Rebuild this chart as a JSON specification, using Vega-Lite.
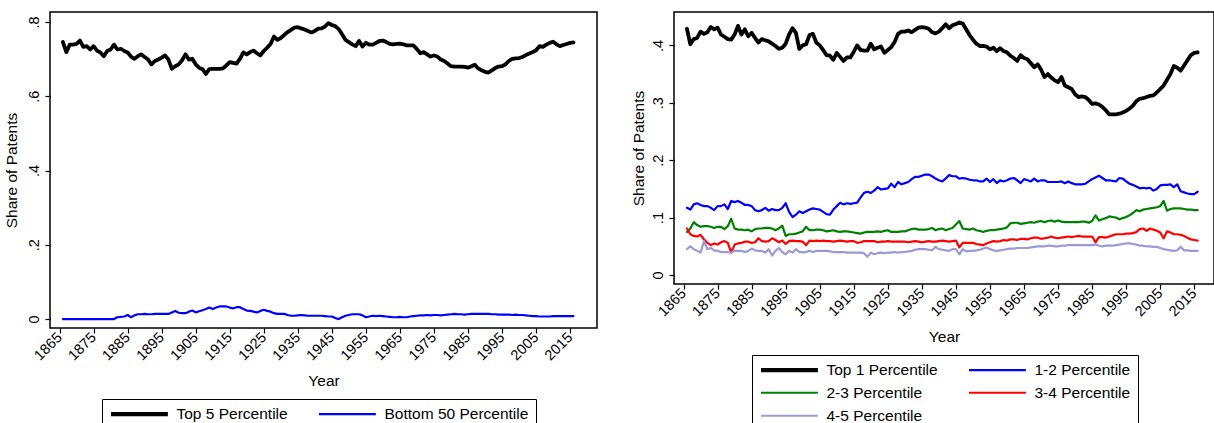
{
"$schema": "https://vega.github.io/schema/vega-lite/v6.json",
"background": "white",
"padding": {"left": 3, "top": 11, "right": 0, "bottom": 0},
"autosize": {"type": "pad"},
"spacing": 77,
"bounds": "flush",
"resolve": {"scale": {"color": "independent"}, "legend": {"color": "independent"}},
"config": {
  "font": "Liberation Sans",
  "view": {"stroke": "black", "strokeWidth": 1.5},
  "axis": {"domain": false, "grid": false, "tickColor": "black", "tickSize": 5, "tickWidth": 1.2, "labelColor": "black", "titleColor": "black", "labelFont": "Liberation Sans", "titleFont": "Liberation Sans", "labelFontSize": 14.5, "titleFontSize": 15.5, "titleFontWeight": "normal", "labelOverlap": false, "labelFlush": false},
  "axisX": {"labelAngle": -45, "labelAlign": "right", "labelBaseline": "middle", "labelPadding": 2, "titlePadding": 7, "minExtent": 38, "maxExtent": 38},
  "axisY": {"labelAngle": -90, "labelAlign": "center", "labelBaseline": "bottom", "labelPadding": 3.5, "titlePadding": 4, "minExtent": 24, "maxExtent": 24},
  "legend": {"orient": "none", "direction": "horizontal", "columns": 2, "strokeColor": "black", "padding": 7, "columnPadding": 26, "rowPadding": 6, "symbolType": "M-1,0H8.9", "symbolSize": 132, "labelOffset": 52, "labelFontSize": 15.5, "labelFont": "Liberation Sans", "labelColor": "black", "labelLimit": 400, "symbolStrokeWidth": 2.2, "symbolFillColor": "transparent"}
},
"datasets": {
"L": [
{"year":1866,"Top 5 Percentile":0.746,"Bottom 50 Percentile":0},{"year":1867,"Top 5 Percentile":0.719,"Bottom 50 Percentile":0},{"year":1868,"Top 5 Percentile":0.739,"Bottom 50 Percentile":0},{"year":1869,"Top 5 Percentile":0.739,"Bottom 50 Percentile":0},{"year":1870,"Top 5 Percentile":0.741,"Bottom 50 Percentile":0},{"year":1871,"Top 5 Percentile":0.750,"Bottom 50 Percentile":0},{"year":1872,"Top 5 Percentile":0.733,"Bottom 50 Percentile":0},{"year":1873,"Top 5 Percentile":0.735,"Bottom 50 Percentile":0},{"year":1874,"Top 5 Percentile":0.726,"Bottom 50 Percentile":0},{"year":1875,"Top 5 Percentile":0.735,"Bottom 50 Percentile":0},{"year":1876,"Top 5 Percentile":0.723,"Bottom 50 Percentile":0},{"year":1877,"Top 5 Percentile":0.718,"Bottom 50 Percentile":0},{"year":1878,"Top 5 Percentile":0.708,"Bottom 50 Percentile":0},{"year":1879,"Top 5 Percentile":0.722,"Bottom 50 Percentile":0},{"year":1880,"Top 5 Percentile":0.726,"Bottom 50 Percentile":0},{"year":1881,"Top 5 Percentile":0.739,"Bottom 50 Percentile":0},{"year":1882,"Top 5 Percentile":0.726,"Bottom 50 Percentile":0.005},{"year":1883,"Top 5 Percentile":0.728,"Bottom 50 Percentile":0.006},{"year":1884,"Top 5 Percentile":0.722,"Bottom 50 Percentile":0.007},{"year":1885,"Top 5 Percentile":0.718,"Bottom 50 Percentile":0.011},{"year":1886,"Top 5 Percentile":0.707,"Bottom 50 Percentile":0.005},{"year":1887,"Top 5 Percentile":0.701,"Bottom 50 Percentile":0.010},{"year":1888,"Top 5 Percentile":0.708,"Bottom 50 Percentile":0.013},{"year":1889,"Top 5 Percentile":0.713,"Bottom 50 Percentile":0.013},{"year":1890,"Top 5 Percentile":0.706,"Bottom 50 Percentile":0.014},{"year":1891,"Top 5 Percentile":0.699,"Bottom 50 Percentile":0.013},{"year":1892,"Top 5 Percentile":0.686,"Bottom 50 Percentile":0.013},{"year":1893,"Top 5 Percentile":0.695,"Bottom 50 Percentile":0.014},{"year":1894,"Top 5 Percentile":0.699,"Bottom 50 Percentile":0.014},{"year":1895,"Top 5 Percentile":0.704,"Bottom 50 Percentile":0.014},{"year":1896,"Top 5 Percentile":0.710,"Bottom 50 Percentile":0.014},{"year":1897,"Top 5 Percentile":0.699,"Bottom 50 Percentile":0.014},{"year":1898,"Top 5 Percentile":0.674,"Bottom 50 Percentile":0.018},{"year":1899,"Top 5 Percentile":0.681,"Bottom 50 Percentile":0.022},{"year":1900,"Top 5 Percentile":0.686,"Bottom 50 Percentile":0.017},{"year":1901,"Top 5 Percentile":0.697,"Bottom 50 Percentile":0.016},{"year":1902,"Top 5 Percentile":0.713,"Bottom 50 Percentile":0.016},{"year":1903,"Top 5 Percentile":0.699,"Bottom 50 Percentile":0.020},{"year":1904,"Top 5 Percentile":0.701,"Bottom 50 Percentile":0.023},{"year":1905,"Top 5 Percentile":0.686,"Bottom 50 Percentile":0.018},{"year":1906,"Top 5 Percentile":0.677,"Bottom 50 Percentile":0.021},{"year":1907,"Top 5 Percentile":0.673,"Bottom 50 Percentile":0.024},{"year":1908,"Top 5 Percentile":0.660,"Bottom 50 Percentile":0.027},{"year":1909,"Top 5 Percentile":0.673,"Bottom 50 Percentile":0.031},{"year":1910,"Top 5 Percentile":0.674,"Bottom 50 Percentile":0.027},{"year":1911,"Top 5 Percentile":0.674,"Bottom 50 Percentile":0.031},{"year":1912,"Top 5 Percentile":0.674,"Bottom 50 Percentile":0.034},{"year":1913,"Top 5 Percentile":0.675,"Bottom 50 Percentile":0.034},{"year":1914,"Top 5 Percentile":0.683,"Bottom 50 Percentile":0.034},{"year":1915,"Top 5 Percentile":0.692,"Bottom 50 Percentile":0.031},{"year":1916,"Top 5 Percentile":0.690,"Bottom 50 Percentile":0.029},{"year":1917,"Top 5 Percentile":0.688,"Bottom 50 Percentile":0.032},{"year":1918,"Top 5 Percentile":0.701,"Bottom 50 Percentile":0.032},{"year":1919,"Top 5 Percentile":0.718,"Bottom 50 Percentile":0.027},{"year":1920,"Top 5 Percentile":0.713,"Bottom 50 Percentile":0.023},{"year":1921,"Top 5 Percentile":0.719,"Bottom 50 Percentile":0.022},{"year":1922,"Top 5 Percentile":0.723,"Bottom 50 Percentile":0.020},{"year":1923,"Top 5 Percentile":0.716,"Bottom 50 Percentile":0.018},{"year":1924,"Top 5 Percentile":0.710,"Bottom 50 Percentile":0.022},{"year":1925,"Top 5 Percentile":0.722,"Bottom 50 Percentile":0.025},{"year":1926,"Top 5 Percentile":0.731,"Bottom 50 Percentile":0.022},{"year":1927,"Top 5 Percentile":0.741,"Bottom 50 Percentile":0.020},{"year":1928,"Top 5 Percentile":0.761,"Bottom 50 Percentile":0.016},{"year":1929,"Top 5 Percentile":0.752,"Bottom 50 Percentile":0.014},{"year":1930,"Top 5 Percentile":0.757,"Bottom 50 Percentile":0.014},{"year":1931,"Top 5 Percentile":0.765,"Bottom 50 Percentile":0.014},{"year":1932,"Top 5 Percentile":0.773,"Bottom 50 Percentile":0.011},{"year":1933,"Top 5 Percentile":0.779,"Bottom 50 Percentile":0.009},{"year":1934,"Top 5 Percentile":0.785,"Bottom 50 Percentile":0.009},{"year":1935,"Top 5 Percentile":0.786,"Bottom 50 Percentile":0.010},{"year":1936,"Top 5 Percentile":0.783,"Bottom 50 Percentile":0.011},{"year":1937,"Top 5 Percentile":0.780,"Bottom 50 Percentile":0.010},{"year":1938,"Top 5 Percentile":0.776,"Bottom 50 Percentile":0.009},{"year":1939,"Top 5 Percentile":0.772,"Bottom 50 Percentile":0.009},{"year":1940,"Top 5 Percentile":0.776,"Bottom 50 Percentile":0.009},{"year":1941,"Top 5 Percentile":0.782,"Bottom 50 Percentile":0.009},{"year":1942,"Top 5 Percentile":0.783,"Bottom 50 Percentile":0.009},{"year":1943,"Top 5 Percentile":0.788,"Bottom 50 Percentile":0.008},{"year":1944,"Top 5 Percentile":0.797,"Bottom 50 Percentile":0.007},{"year":1945,"Top 5 Percentile":0.792,"Bottom 50 Percentile":0.007},{"year":1946,"Top 5 Percentile":0.789,"Bottom 50 Percentile":0.003},{"year":1947,"Top 5 Percentile":0.781,"Bottom 50 Percentile":0.000},{"year":1948,"Top 5 Percentile":0.767,"Bottom 50 Percentile":0.005},{"year":1949,"Top 5 Percentile":0.752,"Bottom 50 Percentile":0.009},{"year":1950,"Top 5 Percentile":0.746,"Bottom 50 Percentile":0.011},{"year":1951,"Top 5 Percentile":0.740,"Bottom 50 Percentile":0.013},{"year":1952,"Top 5 Percentile":0.735,"Bottom 50 Percentile":0.013},{"year":1953,"Top 5 Percentile":0.749,"Bottom 50 Percentile":0.013},{"year":1954,"Top 5 Percentile":0.734,"Bottom 50 Percentile":0.010},{"year":1955,"Top 5 Percentile":0.744,"Bottom 50 Percentile":0.005},{"year":1956,"Top 5 Percentile":0.739,"Bottom 50 Percentile":0.007},{"year":1957,"Top 5 Percentile":0.739,"Bottom 50 Percentile":0.009},{"year":1958,"Top 5 Percentile":0.744,"Bottom 50 Percentile":0.008},{"year":1959,"Top 5 Percentile":0.749,"Bottom 50 Percentile":0.009},{"year":1960,"Top 5 Percentile":0.750,"Bottom 50 Percentile":0.008},{"year":1961,"Top 5 Percentile":0.746,"Bottom 50 Percentile":0.007},{"year":1962,"Top 5 Percentile":0.741,"Bottom 50 Percentile":0.006},{"year":1963,"Top 5 Percentile":0.740,"Bottom 50 Percentile":0.005},{"year":1964,"Top 5 Percentile":0.741,"Bottom 50 Percentile":0.005},{"year":1965,"Top 5 Percentile":0.742,"Bottom 50 Percentile":0.006},{"year":1966,"Top 5 Percentile":0.740,"Bottom 50 Percentile":0.005},{"year":1967,"Top 5 Percentile":0.737,"Bottom 50 Percentile":0.005},{"year":1968,"Top 5 Percentile":0.737,"Bottom 50 Percentile":0.007},{"year":1969,"Top 5 Percentile":0.737,"Bottom 50 Percentile":0.008},{"year":1970,"Top 5 Percentile":0.727,"Bottom 50 Percentile":0.009},{"year":1971,"Top 5 Percentile":0.716,"Bottom 50 Percentile":0.010},{"year":1972,"Top 5 Percentile":0.719,"Bottom 50 Percentile":0.010},{"year":1973,"Top 5 Percentile":0.713,"Bottom 50 Percentile":0.011},{"year":1974,"Top 5 Percentile":0.707,"Bottom 50 Percentile":0.010},{"year":1975,"Top 5 Percentile":0.710,"Bottom 50 Percentile":0.011},{"year":1976,"Top 5 Percentile":0.707,"Bottom 50 Percentile":0.011},{"year":1977,"Top 5 Percentile":0.699,"Bottom 50 Percentile":0.010},{"year":1978,"Top 5 Percentile":0.695,"Bottom 50 Percentile":0.011},{"year":1979,"Top 5 Percentile":0.688,"Bottom 50 Percentile":0.012},{"year":1980,"Top 5 Percentile":0.681,"Bottom 50 Percentile":0.013},{"year":1981,"Top 5 Percentile":0.680,"Bottom 50 Percentile":0.014},{"year":1982,"Top 5 Percentile":0.680,"Bottom 50 Percentile":0.013},{"year":1983,"Top 5 Percentile":0.680,"Bottom 50 Percentile":0.013},{"year":1984,"Top 5 Percentile":0.679,"Bottom 50 Percentile":0.012},{"year":1985,"Top 5 Percentile":0.677,"Bottom 50 Percentile":0.013},{"year":1986,"Top 5 Percentile":0.681,"Bottom 50 Percentile":0.014},{"year":1987,"Top 5 Percentile":0.685,"Bottom 50 Percentile":0.014},{"year":1988,"Top 5 Percentile":0.675,"Bottom 50 Percentile":0.014},{"year":1989,"Top 5 Percentile":0.670,"Bottom 50 Percentile":0.014},{"year":1990,"Top 5 Percentile":0.666,"Bottom 50 Percentile":0.014},{"year":1991,"Top 5 Percentile":0.664,"Bottom 50 Percentile":0.014},{"year":1992,"Top 5 Percentile":0.670,"Bottom 50 Percentile":0.013},{"year":1993,"Top 5 Percentile":0.676,"Bottom 50 Percentile":0.013},{"year":1994,"Top 5 Percentile":0.680,"Bottom 50 Percentile":0.012},{"year":1995,"Top 5 Percentile":0.681,"Bottom 50 Percentile":0.012},{"year":1996,"Top 5 Percentile":0.686,"Bottom 50 Percentile":0.012},{"year":1997,"Top 5 Percentile":0.695,"Bottom 50 Percentile":0.012},{"year":1998,"Top 5 Percentile":0.701,"Bottom 50 Percentile":0.011},{"year":1999,"Top 5 Percentile":0.702,"Bottom 50 Percentile":0.012},{"year":2000,"Top 5 Percentile":0.703,"Bottom 50 Percentile":0.011},{"year":2001,"Top 5 Percentile":0.706,"Bottom 50 Percentile":0.011},{"year":2002,"Top 5 Percentile":0.711,"Bottom 50 Percentile":0.010},{"year":2003,"Top 5 Percentile":0.715,"Bottom 50 Percentile":0.009},{"year":2004,"Top 5 Percentile":0.719,"Bottom 50 Percentile":0.008},{"year":2005,"Top 5 Percentile":0.724,"Bottom 50 Percentile":0.008},{"year":2006,"Top 5 Percentile":0.735,"Bottom 50 Percentile":0.007},{"year":2007,"Top 5 Percentile":0.733,"Bottom 50 Percentile":0.007},{"year":2008,"Top 5 Percentile":0.739,"Bottom 50 Percentile":0.007},{"year":2009,"Top 5 Percentile":0.744,"Bottom 50 Percentile":0.007},{"year":2010,"Top 5 Percentile":0.747,"Bottom 50 Percentile":0.008},{"year":2011,"Top 5 Percentile":0.740,"Bottom 50 Percentile":0.008},{"year":2012,"Top 5 Percentile":0.735,"Bottom 50 Percentile":0.008},{"year":2013,"Top 5 Percentile":0.738,"Bottom 50 Percentile":0.008},{"year":2014,"Top 5 Percentile":0.741,"Bottom 50 Percentile":0.008},{"year":2015,"Top 5 Percentile":0.744,"Bottom 50 Percentile":0.008},{"year":2016,"Top 5 Percentile":0.745,"Bottom 50 Percentile":0.008}
],
"R": [
{"year":1866,"Top 1 Percentile":0.429,"1-2 Percentile":0.117,"2-3 Percentile":0.075,"3-4 Percentile":0.081,"4-5 Percentile":0.045},
{"year":1867,"Top 1 Percentile":0.402,"1-2 Percentile":0.114,"2-3 Percentile":0.081,"3-4 Percentile":0.071,"4-5 Percentile":0.050},
{"year":1868,"Top 1 Percentile":0.411,"1-2 Percentile":0.123,"2-3 Percentile":0.092,"3-4 Percentile":0.068,"4-5 Percentile":0.045},
{"year":1869,"Top 1 Percentile":0.413,"1-2 Percentile":0.125,"2-3 Percentile":0.087,"3-4 Percentile":0.067,"4-5 Percentile":0.042},
{"year":1870,"Top 1 Percentile":0.424,"1-2 Percentile":0.122,"2-3 Percentile":0.084,"3-4 Percentile":0.070,"4-5 Percentile":0.039},
{"year":1871,"Top 1 Percentile":0.420,"1-2 Percentile":0.120,"2-3 Percentile":0.085,"3-4 Percentile":0.062,"4-5 Percentile":0.059},
{"year":1872,"Top 1 Percentile":0.423,"1-2 Percentile":0.120,"2-3 Percentile":0.085,"3-4 Percentile":0.056,"4-5 Percentile":0.045},
{"year":1873,"Top 1 Percentile":0.432,"1-2 Percentile":0.117,"2-3 Percentile":0.084,"3-4 Percentile":0.052,"4-5 Percentile":0.047},
{"year":1874,"Top 1 Percentile":0.428,"1-2 Percentile":0.113,"2-3 Percentile":0.082,"3-4 Percentile":0.055,"4-5 Percentile":0.043},
{"year":1875,"Top 1 Percentile":0.431,"1-2 Percentile":0.120,"2-3 Percentile":0.084,"3-4 Percentile":0.053,"4-5 Percentile":0.042},
{"year":1876,"Top 1 Percentile":0.419,"1-2 Percentile":0.120,"2-3 Percentile":0.084,"3-4 Percentile":0.057,"4-5 Percentile":0.040},
{"year":1877,"Top 1 Percentile":0.415,"1-2 Percentile":0.123,"2-3 Percentile":0.080,"3-4 Percentile":0.059,"4-5 Percentile":0.040},
{"year":1878,"Top 1 Percentile":0.411,"1-2 Percentile":0.115,"2-3 Percentile":0.085,"3-4 Percentile":0.056,"4-5 Percentile":0.040},
{"year":1879,"Top 1 Percentile":0.410,"1-2 Percentile":0.129,"2-3 Percentile":0.098,"3-4 Percentile":0.039,"4-5 Percentile":0.039},
{"year":1880,"Top 1 Percentile":0.419,"1-2 Percentile":0.127,"2-3 Percentile":0.081,"3-4 Percentile":0.053,"4-5 Percentile":0.042},
{"year":1881,"Top 1 Percentile":0.434,"1-2 Percentile":0.129,"2-3 Percentile":0.079,"3-4 Percentile":0.055,"4-5 Percentile":0.042},
{"year":1882,"Top 1 Percentile":0.419,"1-2 Percentile":0.126,"2-3 Percentile":0.079,"3-4 Percentile":0.056,"4-5 Percentile":0.042},
{"year":1883,"Top 1 Percentile":0.428,"1-2 Percentile":0.122,"2-3 Percentile":0.078,"3-4 Percentile":0.058,"4-5 Percentile":0.040},
{"year":1884,"Top 1 Percentile":0.416,"1-2 Percentile":0.122,"2-3 Percentile":0.079,"3-4 Percentile":0.058,"4-5 Percentile":0.042},
{"year":1885,"Top 1 Percentile":0.422,"1-2 Percentile":0.120,"2-3 Percentile":0.076,"3-4 Percentile":0.056,"4-5 Percentile":0.046},
{"year":1886,"Top 1 Percentile":0.413,"1-2 Percentile":0.113,"2-3 Percentile":0.080,"3-4 Percentile":0.057,"4-5 Percentile":0.043},
{"year":1887,"Top 1 Percentile":0.405,"1-2 Percentile":0.111,"2-3 Percentile":0.081,"3-4 Percentile":0.064,"4-5 Percentile":0.042},
{"year":1888,"Top 1 Percentile":0.411,"1-2 Percentile":0.113,"2-3 Percentile":0.081,"3-4 Percentile":0.059,"4-5 Percentile":0.042},
{"year":1889,"Top 1 Percentile":0.409,"1-2 Percentile":0.117,"2-3 Percentile":0.082,"3-4 Percentile":0.058,"4-5 Percentile":0.039},
{"year":1890,"Top 1 Percentile":0.407,"1-2 Percentile":0.112,"2-3 Percentile":0.082,"3-4 Percentile":0.059,"4-5 Percentile":0.045},
{"year":1891,"Top 1 Percentile":0.403,"1-2 Percentile":0.115,"2-3 Percentile":0.081,"3-4 Percentile":0.064,"4-5 Percentile":0.034},
{"year":1892,"Top 1 Percentile":0.399,"1-2 Percentile":0.113,"2-3 Percentile":0.078,"3-4 Percentile":0.061,"4-5 Percentile":0.042},
{"year":1893,"Top 1 Percentile":0.394,"1-2 Percentile":0.113,"2-3 Percentile":0.081,"3-4 Percentile":0.057,"4-5 Percentile":0.047},
{"year":1894,"Top 1 Percentile":0.396,"1-2 Percentile":0.117,"2-3 Percentile":0.086,"3-4 Percentile":0.060,"4-5 Percentile":0.040},
{"year":1895,"Top 1 Percentile":0.403,"1-2 Percentile":0.125,"2-3 Percentile":0.068,"3-4 Percentile":0.054,"4-5 Percentile":0.036},
{"year":1896,"Top 1 Percentile":0.419,"1-2 Percentile":0.110,"2-3 Percentile":0.071,"3-4 Percentile":0.059,"4-5 Percentile":0.042},
{"year":1897,"Top 1 Percentile":0.430,"1-2 Percentile":0.101,"2-3 Percentile":0.071,"3-4 Percentile":0.060,"4-5 Percentile":0.039},
{"year":1898,"Top 1 Percentile":0.422,"1-2 Percentile":0.105,"2-3 Percentile":0.072,"3-4 Percentile":0.059,"4-5 Percentile":0.045},
{"year":1899,"Top 1 Percentile":0.394,"1-2 Percentile":0.111,"2-3 Percentile":0.074,"3-4 Percentile":0.059,"4-5 Percentile":0.040},
{"year":1900,"Top 1 Percentile":0.400,"1-2 Percentile":0.108,"2-3 Percentile":0.076,"3-4 Percentile":0.058,"4-5 Percentile":0.040},
{"year":1901,"Top 1 Percentile":0.402,"1-2 Percentile":0.111,"2-3 Percentile":0.084,"3-4 Percentile":0.052,"4-5 Percentile":0.040},
{"year":1902,"Top 1 Percentile":0.418,"1-2 Percentile":0.114,"2-3 Percentile":0.078,"3-4 Percentile":0.060,"4-5 Percentile":0.042},
{"year":1903,"Top 1 Percentile":0.420,"1-2 Percentile":0.116,"2-3 Percentile":0.078,"3-4 Percentile":0.059,"4-5 Percentile":0.040},
{"year":1904,"Top 1 Percentile":0.405,"1-2 Percentile":0.115,"2-3 Percentile":0.079,"3-4 Percentile":0.060,"4-5 Percentile":0.042},
{"year":1905,"Top 1 Percentile":0.400,"1-2 Percentile":0.114,"2-3 Percentile":0.079,"3-4 Percentile":0.059,"4-5 Percentile":0.042},
{"year":1906,"Top 1 Percentile":0.392,"1-2 Percentile":0.110,"2-3 Percentile":0.078,"3-4 Percentile":0.060,"4-5 Percentile":0.042},
{"year":1907,"Top 1 Percentile":0.383,"1-2 Percentile":0.106,"2-3 Percentile":0.076,"3-4 Percentile":0.059,"4-5 Percentile":0.042},
{"year":1908,"Top 1 Percentile":0.382,"1-2 Percentile":0.105,"2-3 Percentile":0.077,"3-4 Percentile":0.059,"4-5 Percentile":0.041},
{"year":1909,"Top 1 Percentile":0.375,"1-2 Percentile":0.114,"2-3 Percentile":0.078,"3-4 Percentile":0.058,"4-5 Percentile":0.040},
{"year":1910,"Top 1 Percentile":0.387,"1-2 Percentile":0.120,"2-3 Percentile":0.076,"3-4 Percentile":0.059,"4-5 Percentile":0.040},
{"year":1911,"Top 1 Percentile":0.380,"1-2 Percentile":0.126,"2-3 Percentile":0.075,"3-4 Percentile":0.060,"4-5 Percentile":0.040},
{"year":1912,"Top 1 Percentile":0.373,"1-2 Percentile":0.123,"2-3 Percentile":0.076,"3-4 Percentile":0.059,"4-5 Percentile":0.040},
{"year":1913,"Top 1 Percentile":0.379,"1-2 Percentile":0.125,"2-3 Percentile":0.076,"3-4 Percentile":0.058,"4-5 Percentile":0.039},
{"year":1914,"Top 1 Percentile":0.379,"1-2 Percentile":0.124,"2-3 Percentile":0.075,"3-4 Percentile":0.059,"4-5 Percentile":0.039},
{"year":1915,"Top 1 Percentile":0.389,"1-2 Percentile":0.125,"2-3 Percentile":0.074,"3-4 Percentile":0.059,"4-5 Percentile":0.039},
{"year":1916,"Top 1 Percentile":0.400,"1-2 Percentile":0.126,"2-3 Percentile":0.073,"3-4 Percentile":0.056,"4-5 Percentile":0.039},
{"year":1917,"Top 1 Percentile":0.392,"1-2 Percentile":0.135,"2-3 Percentile":0.072,"3-4 Percentile":0.057,"4-5 Percentile":0.039},
{"year":1918,"Top 1 Percentile":0.391,"1-2 Percentile":0.143,"2-3 Percentile":0.074,"3-4 Percentile":0.059,"4-5 Percentile":0.038},
{"year":1919,"Top 1 Percentile":0.391,"1-2 Percentile":0.145,"2-3 Percentile":0.075,"3-4 Percentile":0.059,"4-5 Percentile":0.032},
{"year":1920,"Top 1 Percentile":0.403,"1-2 Percentile":0.143,"2-3 Percentile":0.075,"3-4 Percentile":0.059,"4-5 Percentile":0.039},
{"year":1921,"Top 1 Percentile":0.393,"1-2 Percentile":0.147,"2-3 Percentile":0.075,"3-4 Percentile":0.059,"4-5 Percentile":0.036},
{"year":1922,"Top 1 Percentile":0.396,"1-2 Percentile":0.153,"2-3 Percentile":0.076,"3-4 Percentile":0.057,"4-5 Percentile":0.038},
{"year":1923,"Top 1 Percentile":0.398,"1-2 Percentile":0.149,"2-3 Percentile":0.075,"3-4 Percentile":0.058,"4-5 Percentile":0.039},
{"year":1924,"Top 1 Percentile":0.387,"1-2 Percentile":0.150,"2-3 Percentile":0.077,"3-4 Percentile":0.058,"4-5 Percentile":0.038},
{"year":1925,"Top 1 Percentile":0.392,"1-2 Percentile":0.151,"2-3 Percentile":0.078,"3-4 Percentile":0.059,"4-5 Percentile":0.039},
{"year":1926,"Top 1 Percentile":0.397,"1-2 Percentile":0.159,"2-3 Percentile":0.075,"3-4 Percentile":0.058,"4-5 Percentile":0.039},
{"year":1927,"Top 1 Percentile":0.406,"1-2 Percentile":0.153,"2-3 Percentile":0.075,"3-4 Percentile":0.058,"4-5 Percentile":0.040},
{"year":1928,"Top 1 Percentile":0.420,"1-2 Percentile":0.162,"2-3 Percentile":0.075,"3-4 Percentile":0.058,"4-5 Percentile":0.039},
{"year":1929,"Top 1 Percentile":0.424,"1-2 Percentile":0.158,"2-3 Percentile":0.076,"3-4 Percentile":0.058,"4-5 Percentile":0.040},
{"year":1930,"Top 1 Percentile":0.424,"1-2 Percentile":0.160,"2-3 Percentile":0.076,"3-4 Percentile":0.058,"4-5 Percentile":0.040},
{"year":1931,"Top 1 Percentile":0.426,"1-2 Percentile":0.162,"2-3 Percentile":0.078,"3-4 Percentile":0.057,"4-5 Percentile":0.041},
{"year":1932,"Top 1 Percentile":0.423,"1-2 Percentile":0.167,"2-3 Percentile":0.080,"3-4 Percentile":0.058,"4-5 Percentile":0.042},
{"year":1933,"Top 1 Percentile":0.427,"1-2 Percentile":0.171,"2-3 Percentile":0.081,"3-4 Percentile":0.059,"4-5 Percentile":0.044},
{"year":1934,"Top 1 Percentile":0.431,"1-2 Percentile":0.171,"2-3 Percentile":0.079,"3-4 Percentile":0.058,"4-5 Percentile":0.045},
{"year":1935,"Top 1 Percentile":0.432,"1-2 Percentile":0.173,"2-3 Percentile":0.079,"3-4 Percentile":0.057,"4-5 Percentile":0.045},
{"year":1936,"Top 1 Percentile":0.431,"1-2 Percentile":0.175,"2-3 Percentile":0.079,"3-4 Percentile":0.058,"4-5 Percentile":0.045},
{"year":1937,"Top 1 Percentile":0.429,"1-2 Percentile":0.175,"2-3 Percentile":0.080,"3-4 Percentile":0.059,"4-5 Percentile":0.044},
{"year":1938,"Top 1 Percentile":0.423,"1-2 Percentile":0.172,"2-3 Percentile":0.082,"3-4 Percentile":0.058,"4-5 Percentile":0.043},
{"year":1939,"Top 1 Percentile":0.421,"1-2 Percentile":0.168,"2-3 Percentile":0.078,"3-4 Percentile":0.058,"4-5 Percentile":0.049},
{"year":1940,"Top 1 Percentile":0.424,"1-2 Percentile":0.165,"2-3 Percentile":0.080,"3-4 Percentile":0.059,"4-5 Percentile":0.045},
{"year":1941,"Top 1 Percentile":0.430,"1-2 Percentile":0.163,"2-3 Percentile":0.081,"3-4 Percentile":0.060,"4-5 Percentile":0.044},
{"year":1942,"Top 1 Percentile":0.437,"1-2 Percentile":0.168,"2-3 Percentile":0.078,"3-4 Percentile":0.059,"4-5 Percentile":0.043},
{"year":1943,"Top 1 Percentile":0.430,"1-2 Percentile":0.174,"2-3 Percentile":0.080,"3-4 Percentile":0.058,"4-5 Percentile":0.042},
{"year":1944,"Top 1 Percentile":0.435,"1-2 Percentile":0.172,"2-3 Percentile":0.082,"3-4 Percentile":0.059,"4-5 Percentile":0.045},
{"year":1945,"Top 1 Percentile":0.437,"1-2 Percentile":0.172,"2-3 Percentile":0.088,"3-4 Percentile":0.060,"4-5 Percentile":0.045},
{"year":1946,"Top 1 Percentile":0.440,"1-2 Percentile":0.168,"2-3 Percentile":0.094,"3-4 Percentile":0.048,"4-5 Percentile":0.036},
{"year":1947,"Top 1 Percentile":0.438,"1-2 Percentile":0.169,"2-3 Percentile":0.081,"3-4 Percentile":0.056,"4-5 Percentile":0.045},
{"year":1948,"Top 1 Percentile":0.428,"1-2 Percentile":0.168,"2-3 Percentile":0.080,"3-4 Percentile":0.056,"4-5 Percentile":0.041},
{"year":1949,"Top 1 Percentile":0.418,"1-2 Percentile":0.166,"2-3 Percentile":0.079,"3-4 Percentile":0.056,"4-5 Percentile":0.042},
{"year":1950,"Top 1 Percentile":0.410,"1-2 Percentile":0.165,"2-3 Percentile":0.081,"3-4 Percentile":0.056,"4-5 Percentile":0.042},
{"year":1951,"Top 1 Percentile":0.403,"1-2 Percentile":0.165,"2-3 Percentile":0.078,"3-4 Percentile":0.054,"4-5 Percentile":0.043},
{"year":1952,"Top 1 Percentile":0.399,"1-2 Percentile":0.163,"2-3 Percentile":0.077,"3-4 Percentile":0.053,"4-5 Percentile":0.044},
{"year":1953,"Top 1 Percentile":0.399,"1-2 Percentile":0.163,"2-3 Percentile":0.075,"3-4 Percentile":0.052,"4-5 Percentile":0.046},
{"year":1954,"Top 1 Percentile":0.398,"1-2 Percentile":0.168,"2-3 Percentile":0.077,"3-4 Percentile":0.055,"4-5 Percentile":0.048},
{"year":1955,"Top 1 Percentile":0.393,"1-2 Percentile":0.162,"2-3 Percentile":0.078,"3-4 Percentile":0.057,"4-5 Percentile":0.045},
{"year":1956,"Top 1 Percentile":0.396,"1-2 Percentile":0.167,"2-3 Percentile":0.078,"3-4 Percentile":0.059,"4-5 Percentile":0.043},
{"year":1957,"Top 1 Percentile":0.390,"1-2 Percentile":0.160,"2-3 Percentile":0.079,"3-4 Percentile":0.058,"4-5 Percentile":0.042},
{"year":1958,"Top 1 Percentile":0.395,"1-2 Percentile":0.165,"2-3 Percentile":0.080,"3-4 Percentile":0.059,"4-5 Percentile":0.043},
{"year":1959,"Top 1 Percentile":0.390,"1-2 Percentile":0.163,"2-3 Percentile":0.081,"3-4 Percentile":0.061,"4-5 Percentile":0.044},
{"year":1960,"Top 1 Percentile":0.388,"1-2 Percentile":0.165,"2-3 Percentile":0.083,"3-4 Percentile":0.060,"4-5 Percentile":0.045},
{"year":1961,"Top 1 Percentile":0.382,"1-2 Percentile":0.168,"2-3 Percentile":0.090,"3-4 Percentile":0.062,"4-5 Percentile":0.046},
{"year":1962,"Top 1 Percentile":0.378,"1-2 Percentile":0.169,"2-3 Percentile":0.091,"3-4 Percentile":0.062,"4-5 Percentile":0.046},
{"year":1963,"Top 1 Percentile":0.373,"1-2 Percentile":0.165,"2-3 Percentile":0.091,"3-4 Percentile":0.061,"4-5 Percentile":0.047},
{"year":1964,"Top 1 Percentile":0.383,"1-2 Percentile":0.160,"2-3 Percentile":0.089,"3-4 Percentile":0.063,"4-5 Percentile":0.047},
{"year":1965,"Top 1 Percentile":0.378,"1-2 Percentile":0.167,"2-3 Percentile":0.090,"3-4 Percentile":0.063,"4-5 Percentile":0.047},
{"year":1966,"Top 1 Percentile":0.376,"1-2 Percentile":0.165,"2-3 Percentile":0.091,"3-4 Percentile":0.062,"4-5 Percentile":0.047},
{"year":1967,"Top 1 Percentile":0.369,"1-2 Percentile":0.163,"2-3 Percentile":0.092,"3-4 Percentile":0.064,"4-5 Percentile":0.048},
{"year":1968,"Top 1 Percentile":0.362,"1-2 Percentile":0.168,"2-3 Percentile":0.091,"3-4 Percentile":0.065,"4-5 Percentile":0.049},
{"year":1969,"Top 1 Percentile":0.367,"1-2 Percentile":0.163,"2-3 Percentile":0.093,"3-4 Percentile":0.065,"4-5 Percentile":0.050},
{"year":1970,"Top 1 Percentile":0.358,"1-2 Percentile":0.165,"2-3 Percentile":0.094,"3-4 Percentile":0.063,"4-5 Percentile":0.050},
{"year":1971,"Top 1 Percentile":0.345,"1-2 Percentile":0.165,"2-3 Percentile":0.092,"3-4 Percentile":0.064,"4-5 Percentile":0.050},
{"year":1972,"Top 1 Percentile":0.350,"1-2 Percentile":0.162,"2-3 Percentile":0.094,"3-4 Percentile":0.065,"4-5 Percentile":0.051},
{"year":1973,"Top 1 Percentile":0.344,"1-2 Percentile":0.162,"2-3 Percentile":0.095,"3-4 Percentile":0.067,"4-5 Percentile":0.051},
{"year":1974,"Top 1 Percentile":0.339,"1-2 Percentile":0.162,"2-3 Percentile":0.093,"3-4 Percentile":0.065,"4-5 Percentile":0.050},
{"year":1975,"Top 1 Percentile":0.336,"1-2 Percentile":0.162,"2-3 Percentile":0.095,"3-4 Percentile":0.064,"4-5 Percentile":0.050},
{"year":1976,"Top 1 Percentile":0.345,"1-2 Percentile":0.163,"2-3 Percentile":0.093,"3-4 Percentile":0.065,"4-5 Percentile":0.051},
{"year":1977,"Top 1 Percentile":0.330,"1-2 Percentile":0.160,"2-3 Percentile":0.092,"3-4 Percentile":0.066,"4-5 Percentile":0.051},
{"year":1978,"Top 1 Percentile":0.327,"1-2 Percentile":0.163,"2-3 Percentile":0.092,"3-4 Percentile":0.067,"4-5 Percentile":0.052},
{"year":1979,"Top 1 Percentile":0.324,"1-2 Percentile":0.160,"2-3 Percentile":0.092,"3-4 Percentile":0.066,"4-5 Percentile":0.052},
{"year":1980,"Top 1 Percentile":0.315,"1-2 Percentile":0.158,"2-3 Percentile":0.092,"3-4 Percentile":0.067,"4-5 Percentile":0.052},
{"year":1981,"Top 1 Percentile":0.310,"1-2 Percentile":0.158,"2-3 Percentile":0.092,"3-4 Percentile":0.068,"4-5 Percentile":0.052},
{"year":1982,"Top 1 Percentile":0.311,"1-2 Percentile":0.158,"2-3 Percentile":0.093,"3-4 Percentile":0.067,"4-5 Percentile":0.052},
{"year":1983,"Top 1 Percentile":0.310,"1-2 Percentile":0.159,"2-3 Percentile":0.093,"3-4 Percentile":0.067,"4-5 Percentile":0.052},
{"year":1984,"Top 1 Percentile":0.305,"1-2 Percentile":0.163,"2-3 Percentile":0.091,"3-4 Percentile":0.067,"4-5 Percentile":0.052},
{"year":1985,"Top 1 Percentile":0.298,"1-2 Percentile":0.167,"2-3 Percentile":0.094,"3-4 Percentile":0.067,"4-5 Percentile":0.052},
{"year":1986,"Top 1 Percentile":0.299,"1-2 Percentile":0.170,"2-3 Percentile":0.104,"3-4 Percentile":0.057,"4-5 Percentile":0.053},
{"year":1987,"Top 1 Percentile":0.297,"1-2 Percentile":0.173,"2-3 Percentile":0.095,"3-4 Percentile":0.066,"4-5 Percentile":0.051},
{"year":1988,"Top 1 Percentile":0.293,"1-2 Percentile":0.169,"2-3 Percentile":0.097,"3-4 Percentile":0.066,"4-5 Percentile":0.050},
{"year":1989,"Top 1 Percentile":0.287,"1-2 Percentile":0.165,"2-3 Percentile":0.099,"3-4 Percentile":0.065,"4-5 Percentile":0.051},
{"year":1990,"Top 1 Percentile":0.280,"1-2 Percentile":0.165,"2-3 Percentile":0.102,"3-4 Percentile":0.067,"4-5 Percentile":0.051},
{"year":1991,"Top 1 Percentile":0.280,"1-2 Percentile":0.164,"2-3 Percentile":0.101,"3-4 Percentile":0.069,"4-5 Percentile":0.051},
{"year":1992,"Top 1 Percentile":0.280,"1-2 Percentile":0.163,"2-3 Percentile":0.100,"3-4 Percentile":0.071,"4-5 Percentile":0.052},
{"year":1993,"Top 1 Percentile":0.281,"1-2 Percentile":0.169,"2-3 Percentile":0.097,"3-4 Percentile":0.071,"4-5 Percentile":0.053},
{"year":1994,"Top 1 Percentile":0.283,"1-2 Percentile":0.168,"2-3 Percentile":0.099,"3-4 Percentile":0.071,"4-5 Percentile":0.054},
{"year":1995,"Top 1 Percentile":0.286,"1-2 Percentile":0.163,"2-3 Percentile":0.101,"3-4 Percentile":0.072,"4-5 Percentile":0.055},
{"year":1996,"Top 1 Percentile":0.290,"1-2 Percentile":0.159,"2-3 Percentile":0.104,"3-4 Percentile":0.072,"4-5 Percentile":0.055},
{"year":1997,"Top 1 Percentile":0.295,"1-2 Percentile":0.157,"2-3 Percentile":0.108,"3-4 Percentile":0.073,"4-5 Percentile":0.054},
{"year":1998,"Top 1 Percentile":0.303,"1-2 Percentile":0.154,"2-3 Percentile":0.113,"3-4 Percentile":0.075,"4-5 Percentile":0.053},
{"year":1999,"Top 1 Percentile":0.307,"1-2 Percentile":0.151,"2-3 Percentile":0.111,"3-4 Percentile":0.080,"4-5 Percentile":0.051},
{"year":2000,"Top 1 Percentile":0.308,"1-2 Percentile":0.152,"2-3 Percentile":0.114,"3-4 Percentile":0.081,"4-5 Percentile":0.051},
{"year":2001,"Top 1 Percentile":0.310,"1-2 Percentile":0.151,"2-3 Percentile":0.115,"3-4 Percentile":0.077,"4-5 Percentile":0.050},
{"year":2002,"Top 1 Percentile":0.312,"1-2 Percentile":0.152,"2-3 Percentile":0.116,"3-4 Percentile":0.081,"4-5 Percentile":0.050},
{"year":2003,"Top 1 Percentile":0.313,"1-2 Percentile":0.147,"2-3 Percentile":0.117,"3-4 Percentile":0.079,"4-5 Percentile":0.049},
{"year":2004,"Top 1 Percentile":0.318,"1-2 Percentile":0.150,"2-3 Percentile":0.118,"3-4 Percentile":0.077,"4-5 Percentile":0.049},
{"year":2005,"Top 1 Percentile":0.324,"1-2 Percentile":0.156,"2-3 Percentile":0.120,"3-4 Percentile":0.074,"4-5 Percentile":0.047},
{"year":2006,"Top 1 Percentile":0.330,"1-2 Percentile":0.157,"2-3 Percentile":0.129,"3-4 Percentile":0.064,"4-5 Percentile":0.045},
{"year":2007,"Top 1 Percentile":0.340,"1-2 Percentile":0.157,"2-3 Percentile":0.112,"3-4 Percentile":0.076,"4-5 Percentile":0.044},
{"year":2008,"Top 1 Percentile":0.350,"1-2 Percentile":0.158,"2-3 Percentile":0.115,"3-4 Percentile":0.074,"4-5 Percentile":0.043},
{"year":2009,"Top 1 Percentile":0.364,"1-2 Percentile":0.153,"2-3 Percentile":0.116,"3-4 Percentile":0.071,"4-5 Percentile":0.042},
{"year":2010,"Top 1 Percentile":0.361,"1-2 Percentile":0.158,"2-3 Percentile":0.116,"3-4 Percentile":0.071,"4-5 Percentile":0.043},
{"year":2011,"Top 1 Percentile":0.356,"1-2 Percentile":0.146,"2-3 Percentile":0.116,"3-4 Percentile":0.070,"4-5 Percentile":0.049},
{"year":2012,"Top 1 Percentile":0.365,"1-2 Percentile":0.144,"2-3 Percentile":0.115,"3-4 Percentile":0.068,"4-5 Percentile":0.043},
{"year":2013,"Top 1 Percentile":0.374,"1-2 Percentile":0.142,"2-3 Percentile":0.114,"3-4 Percentile":0.065,"4-5 Percentile":0.043},
{"year":2014,"Top 1 Percentile":0.383,"1-2 Percentile":0.141,"2-3 Percentile":0.114,"3-4 Percentile":0.062,"4-5 Percentile":0.042},
{"year":2015,"Top 1 Percentile":0.387,"1-2 Percentile":0.141,"2-3 Percentile":0.113,"3-4 Percentile":0.061,"4-5 Percentile":0.042},
{"year":2016,"Top 1 Percentile":0.388,"1-2 Percentile":0.145,"2-3 Percentile":0.113,"3-4 Percentile":0.060,"4-5 Percentile":0.042}
]
},
"hconcat": [
{
  "width": 547, "height": 316,
  "data": {"name": "L"},
  "transform": [{"fold": ["Top 5 Percentile", "Bottom 50 Percentile"], "as": ["series", "share"]}],
  "mark": {"type": "line", "strokeJoin": "round", "strokeCap": "round"},
  "encoding": {
    "x": {"field": "year", "type": "quantitative", "scale": {"domain": [1862.2, 2022.9], "nice": false, "zero": false},
          "axis": {"title": "Year", "values": [1865,1875,1885,1895,1905,1915,1925,1935,1945,1955,1965,1975,1985,1995,2005,2015], "format": "d"}},
    "y": {"field": "share", "type": "quantitative", "scale": {"domain": [-0.024, 0.827], "nice": false, "zero": false},
          "axis": {"title": "Share of Patents", "titlePadding": 7, "values": [0, 0.2, 0.4, 0.6, 0.8], "labelExpr": "datum.value == 0 ? '0' : replace(format(datum.value, '.1f'), '0.', '.')"}},
    "color": {"field": "series", "type": "nominal",
              "scale": {"domain": ["Top 5 Percentile", "Bottom 50 Percentile"], "range": ["#000000", "#0000ff"]},
              "legend": {"title": null, "legendX": 52, "legendY": 387,
                         "encode": {"symbols": {"update": {"strokeWidth": {"signal": "datum.value === 'Top 5 Percentile' ? 4.2 : 2.2"}}}}}},
    "strokeWidth": {"condition": {"test": "datum.series === 'Top 5 Percentile'", "value": 3.8}, "value": 2.2}
  }
},
{
  "width": 540, "height": 272,
  "data": {"name": "R"},
  "transform": [{"fold": ["Top 1 Percentile", "1-2 Percentile", "2-3 Percentile", "3-4 Percentile", "4-5 Percentile"], "as": ["series", "share"]}],
  "mark": {"type": "line", "strokeJoin": "round", "strokeCap": "round"},
  "encoding": {
    "x": {"field": "year", "type": "quantitative", "scale": {"domain": [1862.2, 2020.8], "nice": false, "zero": false},
          "axis": {"title": "Year", "values": [1865,1875,1885,1895,1905,1915,1925,1935,1945,1955,1965,1975,1985,1995,2005,2015], "format": "d"}},
    "y": {"field": "share", "type": "quantitative", "scale": {"domain": [-0.0157, 0.4582], "nice": false, "zero": false},
          "axis": {"title": "Share of Patents", "values": [0, 0.1, 0.2, 0.3, 0.4], "labelExpr": "datum.value == 0 ? '0' : replace(format(datum.value, '.1f'), '0.', '.')"}},
    "color": {"field": "series", "type": "nominal",
              "scale": {"domain": ["Top 1 Percentile", "1-2 Percentile", "2-3 Percentile", "3-4 Percentile", "4-5 Percentile"], "range": ["#000000", "#0000ff", "#008000", "#ff0000", "#9a9ad8"]},
              "legend": {"title": null, "legendX": 78, "legendY": 343,
                         "encode": {"symbols": {"update": {"strokeWidth": {"signal": "datum.value === 'Top 1 Percentile' ? 4.2 : 2.2"}}}}}},
    "strokeWidth": {"condition": {"test": "datum.series === 'Top 1 Percentile'", "value": 3.8}, "value": 2.2}
  }
}
]
}
